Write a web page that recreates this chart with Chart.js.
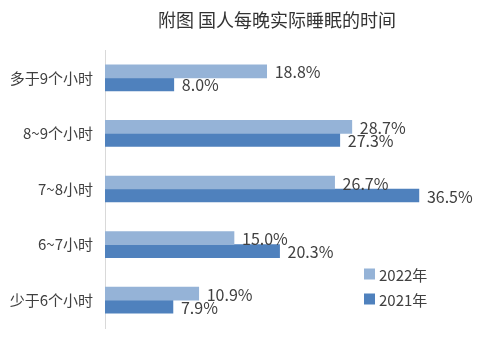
<!DOCTYPE html>
<html>
<head>
<meta charset="utf-8">
<script src="https://cdn.jsdelivr.net/npm/chart.js@4/dist/chart.umd.min.js"></script>
<style>
  html, body { margin: 0; padding: 0; background: #fff; }
  #wrap { width: 500px; height: 363px; }
</style>
</head>
<body>
<div id="wrap"><canvas id="myChart"></canvas></div>
<script>
// chart data
var chartTitle = '附图 国人每晚实际睡眠的时间';
var categories = ['多于9个小时', '8~9个小时', '7~8小时', '6~7小时', '少于6个小时'];
var seriesNames = ['2022年', '2021年'];
var values2022 = [18.8, 28.7, 26.7, 15.0, 10.9];
var values2021 = [8.0, 27.3, 36.5, 20.3, 7.9];
var seriesColors = ['#95B3D7', '#4F81BD'];
var xMax = 45;

var fontFamily = '"Noto Sans CJK SC", "Liberation Sans", sans-serif';
var textColor = '#404040';

// title, a bit right of the canvas centre like the original
var chartHeading = {
    id: 'chartHeading',
    afterDraw: function (chart) {
        var ctx = chart.ctx;
        ctx.save();
        ctx.font = '18px ' + fontFamily;
        ctx.fillStyle = '#333';
        ctx.textAlign = 'center';
        ctx.textBaseline = 'middle';
        ctx.fillText(chartTitle, chart.width / 2 + 27, 20);
        ctx.restore();
    }
};

// value labels at the end of each bar
var barLabels = {
    id: 'barLabels',
    afterDatasetsDraw: function (chart) {
        var ctx = chart.ctx;
        ctx.save();
        ctx.font = '16px ' + fontFamily;
        ctx.fillStyle = textColor;
        ctx.textAlign = 'left';
        ctx.textBaseline = 'middle';
        chart.data.datasets.forEach(function (ds, i) {
            chart.getDatasetMeta(i).data.forEach(function (bar, j) {
                ctx.fillText(ds.data[j].toFixed(1) + '%', bar.x + 8, bar.y + 1);
            });
        });
        ctx.restore();
    }
};

// legend drawn inside the plot, lower right
var boxLegend = {
    id: 'boxLegend',
    afterDraw: function (chart) {
        var ctx = chart.ctx;
        var area = chart.chartArea;
        var x = area.left + 259;
        var y = area.top + 224;
        ctx.save();
        ctx.font = '15px ' + fontFamily;
        ctx.textBaseline = 'middle';
        ctx.textAlign = 'left';
        chart.data.datasets.forEach(function (ds, i) {
            var cy = y + i * 25;
            ctx.fillStyle = ds.backgroundColor;
            ctx.fillRect(x, cy - 5.5, 11, 11);
            ctx.fillStyle = textColor;
            ctx.fillText(ds.label, x + 15, cy + 1);
        });
        ctx.restore();
    }
};

var ctx = document.getElementById('myChart').getContext('2d');
var myChart = new Chart(ctx, {
    type: 'bar',
    data: {
        labels: categories,
        datasets: [{
            label: seriesNames[0],
            data: values2022,
            backgroundColor: seriesColors[0],
            barThickness: 13
        }, {
            label: seriesNames[1],
            data: values2021,
            backgroundColor: seriesColors[1],
            barThickness: 13
        }]
    },
    options: {
        indexAxis: 'y',
        responsive: true,
        maintainAspectRatio: false,
        animation: false,
        layout: {
            padding: { left: 0, right: 8, top: 50, bottom: 35 }
        },
        plugins: {
            legend: { display: false },
            tooltip: { enabled: false },
            title: { display: false }
        },
        scales: {
            x: {
                display: false,
                min: 0,
                max: xMax
            },
            y: {
                afterFit: function (scale) { scale.width = 105; },
                grid: { display: false, drawTicks: false },
                border: { display: true, color: '#D9D9D9', width: 1 },
                ticks: {
                    color: textColor,
                    padding: 12,
                    font: { family: fontFamily, size: 15 }
                }
            }
        }
    },
    plugins: [barLabels, boxLegend, chartHeading]
});
</script>
</body>
</html>
